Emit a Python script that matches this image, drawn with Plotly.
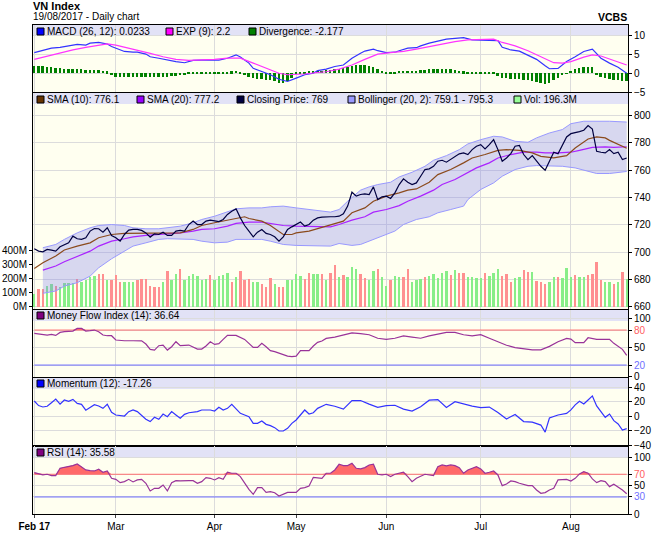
import plotly.graph_objects as go
import pandas as pd

# ---------------- data ----------------
holidays = ["2017-04-06", "2017-05-01", "2017-05-02"]
days = [d for d in pd.bdate_range("2017-02-02", "2017-08-18") if d.strftime("%Y-%m-%d") not in holidays]
dates = [d.strftime("%Y-%m-%d") for d in days]

close = [702.4, 700.7, 700.2, 702, 701.5, 700.7, 703.9, 705.4, 706.8, 711.7,
         709.8, 709.3, 710.5, 715.4, 717.3, 717.1, 714.6, 717.8, 712.2, 710.5,
         708, 712.9, 716.1, 716.6, 716.6, 715.9, 714.1, 711, 713.4, 712.9,
         714.6, 712.2, 712.2, 715.4, 715.9, 715.4, 720.2, 722.7, 720.2, 720.2,
         722.7, 723.4, 722.7, 722.4, 723.9, 727.6, 730, 731.7, 725.1, 719.5,
         715.4, 711.2, 714.6, 716.6, 713.7, 712.9, 711.2, 708, 711.2, 716.6,
         718.5, 720.2, 722, 719, 720.2, 723.4, 725.1, 725.6, 725.9, 725.9,
         725.9, 726.3, 728, 733.7, 743.9, 741, 742.2, 742.7, 742.2, 747.8,
         738.5, 740.5, 741, 739.3, 743.4, 749.5, 753.7, 751.2, 749.5, 750.7,
         755.6, 760.5, 761, 762.9, 766.6, 767.3, 765.9, 767.8, 769.8, 772,
         772.7, 771.5, 775.1, 777.6, 778.8, 775.6, 778.8, 782.4, 775.1, 766.6,
         769, 772.2, 777.6, 778.1, 771.5, 767.8, 770.7, 766.6, 762.9, 760,
         766.6, 773.2, 772, 778.1, 784.4, 786.8, 787.3, 788.3, 789.3, 792.7,
         790.2, 773.9, 773.2, 772.7, 775.1, 772.2, 773.2, 767.8, 769]

volume_m = [89, 125, 125, 148, 158, 148, 136, 169, 165, 165,
            195, 176, 188, 212, 219, 231, 231, 188, 188, 224,
            176, 172, 172, 176, 188, 195, 195, 148, 136, 136,
            176, 252, 188, 231, 266, 188, 219, 231, 219, 188,
            195, 224, 188, 219, 224, 235, 172, 212, 252, 188,
            195, 176, 176, 160, 136, 200, 160, 136, 141, 188,
            188, 231, 219, 195, 235, 231, 231, 231, 188, 235,
            294, 212, 224, 212, 278, 266, 231, 200, 188, 252,
            266, 212, 148, 188, 219, 212, 212, 264, 176, 188,
            195, 212, 219, 231, 200, 235, 252, 224, 259, 235,
            235, 207, 212, 200, 200, 235, 219, 235, 264, 219,
            231, 172, 200, 212, 259, 242, 242, 184, 176, 160,
            176, 207, 207, 200, 271, 212, 224, 212, 207, 224,
            231, 313, 188, 176, 172, 158, 172, 242, 196.3]
volume_dir = ("GRRGGRGGGG" "RGGGGRRGRR" "RGGGRRRRRR" "GRGGRGGGGG" "GRGGGGRGRR"
              "RGGRRRGRRG" "GGGRRGGRGR" "RGRGGGRRGG" "RGGRGGRRGG" "GRGGGGGRGR"
              "RGGGGRGGGR" "RRGGRRGRRR" "GGRGGGRGGR" "RRRGGRGRG")

sma10_idx = [0, 2, 5, 7, 10, 13, 15, 18, 21, 23, 26, 29, 31, 34, 37, 39, 42, 45, 47, 49, 50, 53, 55, 57, 58,
             60, 61, 64, 67, 69, 72, 74, 77, 79, 82, 85, 87, 89, 92, 94, 97, 100, 102, 105, 108, 110, 113,
             116, 118, 121, 124, 126, 129, 131, 133, 134, 136, 138]
sma10_val = [688.0, 692.2, 697.1, 701.5, 704.4, 706.8, 710.5, 712.9, 713.7, 713.7, 713.7, 713.7, 713.7,
             714.1, 716.6, 719.5, 721.5, 723.4, 725.1, 725.9, 724.6, 722.7, 719.5, 715.4, 712.9,
             712.9, 714.1, 715.4, 718.3, 720.2, 722.7, 728.8, 732.4, 737.3, 741, 743.4, 745.4, 746.3,
             751.2, 756.8, 760.5, 765.4, 769, 771.5, 774.6, 775.1, 774.6, 772.7, 770.2, 769, 770.7,
             776.3, 782.9, 784.4, 783.7, 781.9, 778.8, 776.1]

sma20_idx = [2, 5, 7, 10, 13, 15, 18, 21, 23, 26, 29, 31, 34, 37, 39, 42, 45, 47, 50, 53, 55, 58, 61, 65,
             69, 71, 74, 77, 79, 82, 85, 87, 90, 93, 95, 98, 100, 103, 106, 108, 111, 114, 117, 119, 122,
             125, 127, 130, 133, 135, 138]
sma20_val = [686.8, 689.8, 692.9, 696.6, 700.7, 704.4, 708, 709.8, 711.2, 712.2, 712.9, 713.7, 714.1,
             715.4, 716.6, 717.1, 719, 721, 722, 722, 721, 719.5, 719, 718.5, 718.5, 720.2, 723.4,
             725.9, 729.3, 731.2, 734.1, 737.3, 741, 745.4, 749.5, 753.2, 756.8, 761.7, 765.4, 769,
             771.5, 773.2, 773.2, 772.7, 772.7, 773.2, 774.6, 776.8, 777.1, 776.8, 777.2]

boll_up_idx = [2, 5, 7, 10, 13, 15, 18, 21, 23, 26, 29, 31, 34, 37, 39, 42, 45, 47, 50, 53, 55, 58, 61, 64,
               67, 69, 71, 73, 76, 78, 80, 83, 85, 88, 91, 93, 96, 99, 101, 104, 107, 109, 112, 115, 117,
               120, 123, 125, 128, 131, 134, 138]
boll_up_val = [703.2, 705.6, 709.3, 714.1, 717.8, 719.5, 720.2, 719.5, 717.8, 717.1, 717.1, 717.8, 719,
               721.5, 723.9, 726.3, 729.3, 731.7, 732.4, 732.4, 733.2, 733.7, 732.4, 731.2, 730, 729.3,
               731.2, 737.3, 745.4, 747.8, 749.5, 751.2, 755.1, 758.5, 762.9, 767.3, 770.7, 775.1,
               779.3, 782.4, 784.9, 784.4, 781.2, 780.5, 783.7, 787.3, 789.8, 794.1, 795.9, 795.9,
               795.9, 795.3]

boll_lo_idx = [2, 5, 7, 10, 13, 15, 18, 21, 23, 26, 29, 31, 34, 37, 39, 42, 45, 47, 50, 53, 55, 58, 61, 65,
               69, 71, 74, 76, 78, 81, 84, 86, 89, 92, 94, 97, 100, 101, 104, 107, 109, 112, 115, 117,
               120, 123, 126, 128, 131, 134, 136, 138]
boll_lo_val = [669.8, 671.5, 675.1, 677.6, 682.4, 688.5, 695.1, 700.7, 704.4, 706.8, 709.3, 709.8, 709.8,
               709.3, 708, 706.8, 707.3, 709.3, 709.3, 709.3, 708, 705.6, 704.9, 704.4, 704.4, 706.3,
               704.9, 705.6, 708, 711.7, 715.4, 720.2, 723.9, 725.9, 728.8, 731.2, 733.7, 738.5,
               745.9, 750.7, 755.6, 760.5, 762.9, 763.4, 763.4, 762.9, 761.7, 760, 757.6, 757.6,
               758.5, 759.1]

macd_idx = [0, 2, 4, 6, 8, 10, 12, 13, 15, 17, 18, 21, 23, 24, 26, 27, 29, 31, 33, 35, 37, 39, 41, 43,
            45, 47, 48, 50, 51, 53, 55, 57, 59, 61, 63, 65, 66, 68, 70, 72, 74, 76, 77, 79, 80, 82, 84,
            85, 87, 89, 90, 92, 94, 96, 98, 100, 102, 104, 106, 108, 109, 111, 113, 115, 117, 119, 120,
            122, 124, 126, 128, 130, 132, 134, 136, 138]
macd_val = [5.5, 6.2, 6.7, 6.9, 7.3, 7.7, 7.5, 8.0, 8.2, 7.8, 7.1, 5.8, 5.6, 5.6, 5.1, 4.4, 4.0, 3.5,
            3.1, 2.8, 3.4, 3.5, 3.5, 3.5, 4.0, 4.9, 4.3, 2.7, 1.3, 0.4, -0.4, -1.6, -2.2, -1.3, -0.4,
            0.0, 0.7, 1.1, 1.8, 2.2, 4.0, 5.3, 5.9, 6.4, 6.0, 5.5, 5.6, 6.0, 6.7, 6.8, 7.3, 8.0, 8.6,
            9.1, 9.3, 9.5, 8.9, 8.9, 8.9, 8.7, 6.9, 6.2, 5.9, 4.9, 3.7, 2.0, 1.2, 1.3, 3.1, 4.4, 5.8,
            6.4, 4.0, 2.7, 1.6, 0.0233]

exp_idx = [0, 3, 6, 9, 12, 15, 17, 19, 22, 25, 27, 30, 33, 36, 39, 42, 45, 48, 51, 54, 57, 59, 61, 63,
           66, 68, 71, 74, 77, 80, 83, 86, 89, 92, 95, 98, 101, 104, 107, 109, 112, 115, 118, 121, 123,
           125, 128, 130, 132, 135, 138]
exp_val = [3.7, 4.6, 5.5, 6.2, 6.9, 7.5, 7.8, 7.5, 6.7, 6.0, 5.3, 4.4, 3.7, 3.4, 3.5, 3.7, 4.0, 4.0,
           2.7, 1.3, 0.0, -0.4, -0.4, -0.2, 0.2, 0.4, 1.1, 2.2, 3.7, 5.1, 5.5, 5.8, 6.4, 7.1, 7.8, 8.4,
           8.9, 9.1, 9.1, 8.2, 7.3, 6.0, 4.3, 2.8, 2.7, 3.1, 4.3, 4.9, 4.6, 3.4, 2.2]

divergence = [1.9, 1.9, 1.8, 1.7, 1.6, 1.5, 1.4,
              1.2, 1.1, 1.1, 1.0, 1.0, 0.9, 0.8, 0.8, 0.9, 0.7, 0.5,
              -0.45,
              -0.9, -1.1, -1.1, -1.0, -1.0, -1.0, -0.9, -0.9, -0.9, -1.0, -1.0, -1.0, -0.9, -0.8, -0.7, -0.6, -0.5,
              0.1, 0.2, 0.2, 0.2, 0.2, 0.2, 0.2, 0.3, 0.3, 0.4, 0.5, 0.6,
              0.3,
              -0.5, -1.0, -1.3, -1.5, -1.6, -1.7, -1.9, -2.2, -2.5, -2.6, -2.2, -1.2,
              0.2, 0.3, 0.4, 0.5, 0.6, 0.6, 0.7, 0.8,
              0.9, 1.0, 1.1, 1.3, 1.6, 2.0, 2.2, 2.3, 2.2, 2.0, 1.6, 1.0,
              0.6, 0.4, 0.3, 0.4, 0.6, 0.7, 0.7, 0.6, 0.7,
              0.8, 0.9, 1.0, 1.1, 1.2, 1.1, 1.1, 1.0, 0.9, 0.7, 0.5, 0.3,
              0.2, 0.3, 0.3, 0.3, 0.3, 0.2,
              -0.8, -1.2, -1.4, -1.5, -1.5, -1.6, -1.7, -1.9, -2.1, -2.3, -2.6, -2.8, -2.5, -1.8, -1.2, -0.6, -0.1,
              0.6, 1.0, 1.4, 1.6, 1.7, 1.6,
              -0.4,
              -1.0, -1.3, -1.5, -1.7, -1.9, -2.0, -2.177]

mfi_idx = [0, 2, 3, 4, 5, 6, 7, 9, 10, 11, 12, 13, 14, 15, 16, 17, 18, 19, 20, 21, 23, 25, 26, 27, 28, 29,
           30, 31, 32, 33, 34, 35, 36, 38, 39, 40, 41, 42, 43, 44, 45, 46, 47, 49, 50, 51, 52, 53, 54, 55,
           56, 58, 59, 60, 61, 62, 63, 64, 65, 66, 67, 68, 70, 72, 74, 76, 78, 80, 82, 84, 86, 88, 90,
           92, 94, 96, 98, 100, 102, 104, 106, 108, 110, 112, 114, 116, 118, 120, 122, 124, 125, 126,
           128, 129, 131, 132, 134, 135, 137, 138]
mfi_val = [74.3, 72.6, 71.5, 72.6, 70.9, 76.0, 77.2, 78.3, 82.9, 82.9, 78.3, 78.9, 80.0, 77.2, 71.5, 70.3,
           70.3, 62.9, 61.7, 61.7, 61.7, 61.5, 56.0, 46.9, 45.7, 53.2, 54.3, 45.7, 51.4, 60.0, 53.2,
           53.7, 54.3, 47.4, 47.4, 52.6, 60.0, 55.4, 56.6, 64.0, 70.9, 70.9, 70.9, 64.0, 57.2, 50.3,
           50.3, 57.2, 51.4, 44.6, 42.9, 37.2, 35.4, 34.3, 35.4, 44.6, 44.0, 44.6, 52.6, 58.9, 61.2,
           65.7, 68, 72, 75, 74, 72, 66, 64, 66, 70, 68, 66, 70, 73, 76, 76, 72, 70, 72, 66, 60, 54,
           50, 48, 46, 46, 52, 60, 65.7, 64.6, 58.3, 58.3, 66.8, 64.0, 64.0, 64.0, 57.2, 46.9, 36.64]

mom_idx = [0, 1, 2, 3, 4, 5, 6, 7, 8, 9, 10, 11, 12, 13, 14, 15, 16, 17, 18, 19, 21, 22, 23, 24, 25, 26,
           27, 28, 29, 30, 31, 32, 33, 34, 35, 36, 38, 39, 40, 41, 42, 43, 44, 45, 46, 47, 48, 49, 50,
           51, 52, 53, 54, 55, 56, 57, 58, 59, 60, 61, 62, 63, 64, 65, 66, 67, 68, 70, 72, 74, 76, 78,
           80, 82, 84, 86, 88, 90, 92, 94, 96, 98, 100, 102, 104, 106, 108, 110, 112, 114, 116, 118,
           119, 120, 122, 124, 125, 126, 127, 128, 129, 130, 131, 132, 133, 134, 135, 136, 137, 138]
mom_val = [21.3, 15, 13, 14, 19, 24.1, 17, 22.8, 21, 23.6, 18, 16.7, 8.5, 12, 16.2, 14.4, 11.1, 16.7,
           5.5, 1.8, 0.4, 6.5, 8.8, 6.5, 1.8, -4.2, -7.4, -1.4, -4.2, 3.2, -0.5, 6.5, 1.8, -2.8, 2.7,
           5, 6.5, 8.8, 8.8, 8.8, 7.4, 12.5, 8.8, 11.1, 16.7, 11.1, 4.1, 1.8, -0.5, -9.8, -9.8, -6.5,
           -11.2, -13, -15.8, -20.5, -20.5, -16.8, -9.8, -5.1, 1.8, 8.8, 3.2, 5, 11.1, 13.4, 16.7,
           14, 10, 22, 22, 17, 12.6, 15, 15.4, 10, 7.3, 13.4, 22.5, 23.2, 12.2, 20.3, 17.1, 14.1,
           12.2, 12.9, 5.3, -3.7, 2.5, -7.3, -8.1, -12.2, -22, -2.4, 1.8, 4.1, 9, 16, 20.9, 17.2,
           22.8, 28.4, 14.4, 6.5, -1.4, 3.2, -6.1, -10.7, -19.1, -17.26]

rsi_idx = [0, 2, 3, 4, 5, 6, 7, 9, 10, 11, 12, 13, 14, 15, 16, 17, 18, 19, 20, 21, 22, 23, 24, 25, 26, 27,
           28, 29, 30, 31, 32, 33, 34, 36, 37, 38, 39, 40, 41, 42, 43, 44, 45, 46, 47, 48, 49, 50, 51,
           52, 53, 54, 55, 56, 57, 58, 59, 61, 62, 63, 64, 65, 66, 67, 68, 69, 70, 71, 72, 73, 74, 75,
           76, 77, 78, 79, 80, 81, 82, 83, 84, 86, 87, 88, 89, 91, 93, 94, 95, 96, 97, 98, 99, 100,
           101, 102, 103, 104, 105, 106, 107, 108, 109, 110, 111, 112, 113, 115, 116, 117, 118, 119,
           120, 121, 122, 124, 125, 126, 127, 128, 129, 130, 131, 132, 133, 134, 135, 137, 138]
rsi_val = [72.9, 68.8, 70, 67.6, 67.6, 80.5, 82.3, 85.2, 88.2, 83.5, 77.6, 76.4, 75.8, 78.8, 73.5, 75.8,
           62.9, 61.1, 55.3, 57, 61.1, 56.5, 60, 61.1, 54.1, 40.6, 45.3, 45.3, 51.1, 40.6, 55.3, 58.8,
           58.2, 58.8, 58.8, 54.1, 57, 64.1, 62.9, 60, 64.1, 61.1, 73.5, 71.8, 71.8, 65.9, 54.1, 43.5,
           34.7, 46.4, 46.4, 38.1, 39.3, 37.5, 31.6, 35.2, 38.1, 38.1, 45.3, 46.4, 49.3, 64.7, 64.1,
           62.9, 71.8, 71.8, 77.6, 87.6, 85.2, 85.2, 89.4, 80.5, 79.4, 81.7, 86.4, 87.6, 70, 68.8, 70,
           65.9, 70, 73.5, 65.9, 57, 62.9, 70, 67.6, 83.5, 86.4, 84.7, 86.4, 85.2, 81.7, 71.8, 77.6,
           80.5, 83.5, 79.4, 71.8, 73.5, 75.8, 68.8, 50, 52.9, 58.2, 57, 54.1, 50, 50, 42.4, 36.5,
           37.7, 42.4, 45.3, 60, 61.1, 58.2, 62.9, 70.6, 74.7, 71.8, 61.8, 55.3, 58.8, 57, 48.2, 52.3,
           42.4, 35.58]

month_labels = ["Feb 17", "Mar", "Apr", "May", "Jun", "Jul", "Aug"]

# ---------------- helpers ----------------
W, H = 660, 537
ML, MR, MT, MB = 33, 32, 25, 23
PW, PH = W - ML - MR, H - MT - MB


def fx(px):
    return (px - ML) / PW


def fy(py):
    return (H - MB - py) / PH


FONT = "Liberation Sans, Arial, sans-serif"
GRID = "#dcdcdc"
BAND = "#e2e2f6"
BG = "#fffff0"
TXT = 10


def sel(idx, vals):
    return [dates[i] for i in idx], vals


month_ticks = []
seen = set()
for d in dates:
    m = d[:7]
    if m not in seen:
        seen.add(m)
        month_ticks.append(d)

fig = go.Figure()

# MACD panel
fig.add_trace(go.Bar(x=dates, y=divergence, marker=dict(color="#008000", line=dict(width=0)),
                     width=0.45, xaxis="x", yaxis="y"))
x, y = sel(macd_idx, macd_val)
fig.add_trace(go.Scatter(x=x, y=y, mode="lines", line=dict(color="#3333ff", width=1.2), xaxis="x", yaxis="y"))
x, y = sel(exp_idx, exp_val)
fig.add_trace(go.Scatter(x=x, y=y, mode="lines", line=dict(color="#ff33ff", width=1.2), xaxis="x", yaxis="y"))

# Main panel: volume (base axis y2) and prices (y3 overlay)
vol_colors = ["#88ee88" if c == "G" else "#ff9090" for c in volume_dir]
fig.add_trace(go.Bar(x=dates, y=[v * 1e6 for v in volume_m], marker=dict(color=vol_colors, line=dict(width=0)),
                     width=0.55, xaxis="x2", yaxis="y2"))
x, y = sel(boll_lo_idx, boll_lo_val)
fig.add_trace(go.Scatter(x=x, y=y, mode="lines", line=dict(color="#9999ff", width=1), xaxis="x2", yaxis="y3"))
x, y = sel(boll_up_idx, boll_up_val)
fig.add_trace(go.Scatter(x=x, y=y, mode="lines", line=dict(color="#9999ff", width=1), fill="tonexty",
                         fillcolor="rgba(130,130,235,0.32)", xaxis="x2", yaxis="y3"))
x, y = sel(sma20_idx, sma20_val)
fig.add_trace(go.Scatter(x=x, y=y, mode="lines", line=dict(color="#aa22ff", width=1.2), xaxis="x2", yaxis="y3"))
x, y = sel(sma10_idx, sma10_val)
fig.add_trace(go.Scatter(x=x, y=y, mode="lines", line=dict(color="#8b4a1c", width=1.2), xaxis="x2", yaxis="y3"))
fig.add_trace(go.Scatter(x=dates, y=close, mode="lines", line=dict(color="#000040", width=1.2), xaxis="x2", yaxis="y3"))


def thresh_panel(idx, vals, hi, lo, xa, ya, color):
    xs = [dates[i] for i in idx]
    fig.add_trace(go.Scatter(x=xs, y=[hi] * len(xs), mode="lines", line=dict(color="#ff7070", width=1),
                             xaxis=xa, yaxis=ya))
    fig.add_trace(go.Scatter(x=xs, y=[max(v, hi) for v in vals], mode="lines", line=dict(width=0),
                             fill="tonexty", fillcolor="rgba(255,80,80,0.85)", xaxis=xa, yaxis=ya))
    fig.add_trace(go.Scatter(x=xs, y=[lo] * len(xs), mode="lines", line=dict(color="#7070ff", width=1),
                             xaxis=xa, yaxis=ya))
    fig.add_trace(go.Scatter(x=xs, y=vals, mode="lines", line=dict(color=color, width=1.2), xaxis=xa, yaxis=ya))


thresh_panel(mfi_idx, mfi_val, 80, 20, "x3", "y4", "#993399")
x, y = sel(mom_idx, mom_val)
fig.add_trace(go.Scatter(x=x, y=y, mode="lines", line=dict(color="#3333ff", width=1.2), xaxis="x4", yaxis="y5"))
thresh_panel(rsi_idx, rsi_val, 70, 30, "x5", "y6", "#993399")

# ---------------- axes ----------------
common_x = dict(type="category", categoryorder="array", categoryarray=dates, range=[-0.3, 138.3],
                tickvals=month_ticks, ticktext=month_labels, showgrid=True, gridcolor=GRID, gridwidth=1,
                showline=True, mirror=True, linecolor="black", linewidth=1, zeroline=False,
                showticklabels=False, ticks="", fixedrange=True, automargin=False)
yfont = dict(family=FONT, size=TXT, color="black")
common_y = dict(side="right", showline=True, mirror=True, linecolor="black", linewidth=1, ticks="outside",
                ticklen=3, tickcolor="black", tickfont=yfont, showgrid=True, gridcolor=GRID, zeroline=False,
                fixedrange=True, automargin=False)

panels = {
    "macd": (25, 92),
    "main": (93, 309),
    "mfi": (310, 377),
    "mom": (377.5, 445.5),
    "rsi": (446, 514),
}

lay = dict(
    width=W, height=H, margin=dict(l=ML, r=MR, t=MT, b=MB, autoexpand=False), paper_bgcolor="white",
    plot_bgcolor=BG, showlegend=False, bargap=0,
)
lay["xaxis"] = dict(common_x, anchor="y")
lay["xaxis2"] = dict(common_x, anchor="y2", matches="x")
lay["xaxis3"] = dict(common_x, anchor="y4", matches="x")
lay["xaxis4"] = dict(common_x, anchor="y5", matches="x")
lay["xaxis5"] = dict(common_x, anchor="y6", matches="x", showticklabels=True, ticks="outside", ticklen=3,
                     tickfont=dict(family=FONT, size=TXT, color="black"))
lay["xaxis5"]["ticktext"] = ["<b>Feb 17</b>"] + month_labels[1:]

t, b = panels["macd"]
lay["yaxis"] = dict(common_y, anchor="x", domain=[fy(b), fy(t)], range=[-5, 12.85], tickvals=[-5, 0, 5, 10])
t, b = panels["main"]
lay["yaxis2"] = dict(common_y, anchor="x2", domain=[fy(b), fy(t)], side="left", range=[-16e6, 1507e6],
                     tickvals=[0, 1e8, 2e8, 3e8, 4e8], ticktext=["0M", "100M", "200M", "300M", "400M"],
                     showgrid=False, mirror=False)
lay["yaxis3"] = dict(common_y, anchor="x2", overlaying="y2", range=[658.3, 816.6],
                     tickvals=[660, 680, 700, 720, 740, 760, 780, 800])
t, b = panels["mfi"]
lay["yaxis4"] = dict(common_y, anchor="x3", domain=[fy(b), fy(t)], range=[-0.5, 114.4],
                     tickvals=[0, 20, 50, 80, 100],
                     ticktext=["0", "<span style='color:#7070ff'>20</span>", "50",
                               "<span style='color:#ff6060'>80</span>", "100"])
t, b = panels["mom"]
lay["yaxis5"] = dict(common_y, anchor="x4", domain=[fy(b), fy(t)], range=[-40.7, 54.1],
                     tickvals=[-40, -20, 0, 20, 40])
t, b = panels["rsi"]
lay["yaxis6"] = dict(common_y, anchor="x5", domain=[fy(b), fy(t)], range=[0, 119.8],
                     tickvals=[0, 30, 50, 70, 100],
                     ticktext=["0", "<span style='color:#7070ff'>30</span>", "50",
                               "<span style='color:#ff6060'>70</span>", "100"])
fig.update_layout(**lay)

# ---------------- legend bands, squares, text ----------------
shapes = []
annos = []
band_info = [
    (25, 31.5, [(37, "#0000ff", "MACD (26, 12): 0.0233"), (166, "#ff00ff", "EXP (9): 2.2"),
                (249, "#008000", "Divergence: -2.177")]),
    (93, 99.5, [(37, "#663300", "SMA (10): 776.1"), (137, "#9900ff", "SMA (20): 777.2"),
                (237, "#000040", "Closing Price: 769"), (348, "#9999ff", "Bollinger (20, 2): 759.1 - 795.3"),
                (514, "#99ff99", "Vol: 196.3M")]),
    (310, 315.5, [(37, "#800080", "Money Flow Index (14): 36.64")]),
    (378, 383.5, [(37, "#0000ff", "Momentum (12): -17.26")]),
    (447, 452.5, [(37, "#800080", "RSI (14): 35.58")]),
]
for top, cy, items in band_info:
    shapes.append(dict(type="rect", xref="paper", yref="paper", x0=0, x1=1, y0=fy(top + 11), y1=fy(top),
                       fillcolor=BAND, line=dict(width=0), layer="below"))
    for sx, col, txt in items:
        shapes.append(dict(type="rect", xref="paper", yref="paper", x0=fx(sx), x1=fx(sx + 7),
                           y0=fy(cy + 3.5), y1=fy(cy - 3.5), fillcolor=col, line=dict(color="black", width=1),
                           layer="above"))
        annos.append(dict(xref="paper", yref="paper", x=fx(sx + 8.5), y=fy(cy), xanchor="left", yanchor="middle",
                          text=txt, showarrow=False, borderpad=0,
                          font=dict(family=FONT, size=TXT, color="black")))

annos.append(dict(xref="paper", yref="paper", x=fx(32), y=fy(5.5), xanchor="left", yanchor="middle",
                  text="<b>VN Index</b>", showarrow=False, borderpad=0,
                  font=dict(family=FONT, size=11, color="black")))
annos.append(dict(xref="paper", yref="paper", x=fx(32), y=fy(17), xanchor="left", yanchor="middle",
                  text="19/08/2017 - Daily chart", showarrow=False, borderpad=0,
                  font=dict(family=FONT, size=10, color="black")))
annos.append(dict(xref="paper", yref="paper", x=fx(628), y=fy(16.5), xanchor="right", yanchor="middle",
                  text="<b>VCBS</b>", showarrow=False, borderpad=0,
                  font=dict(family=FONT, size=10.5, color="black")))

fig.update_layout(shapes=shapes, annotations=annos)
fig.write_html("out.html", config={"displayModeBar": False},
               post_script="document.body.style.margin='0';document.body.style.overflow='hidden';")
